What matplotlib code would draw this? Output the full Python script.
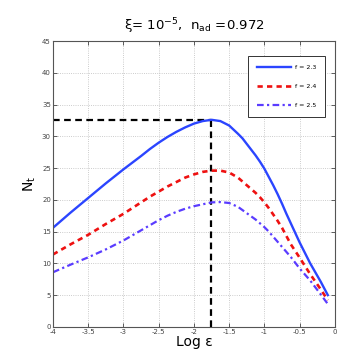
import matplotlib
matplotlib.use('Agg')
import matplotlib.pyplot as plt

# log epsilon grid and N_t curves
LOG_EPS = [-4, -3.75, -3.5, -3.25, -3, -2.75, -2.625, -2.5, -2.375, -2.25,
           -2.125, -2.0, -1.875, -1.75, -1.625, -1.5, -1.375, -1.3125, -1.25,
           -1.1875, -1.125, -1.0625, -1.0, -0.9375, -0.875, -0.8125, -0.75,
           -0.6875, -0.625, -0.5, -0.35, -0.2, -0.1]
NT_23 = [15.6, 18.0, 20.3, 22.6, 24.8, 26.9, 28.0, 29.0, 29.9, 30.7,
         31.4, 32.0, 32.4, 32.6, 32.4, 31.7, 30.4, 29.7, 28.8,
         27.9, 27.0, 26.0, 24.9, 23.6, 22.3, 20.9, 19.4,
         17.8, 16.3, 13.3, 10.0, 7.1, 5.0]
NT_24 = [11.4, 13.0, 14.5, 16.2, 17.8, 19.6, 20.5, 21.3, 22.1, 22.8,
         23.5, 24.0, 24.4, 24.6, 24.6, 24.3, 23.5, 22.9, 22.3,
         21.7, 21.1, 20.4, 19.6, 18.7, 17.7, 16.7, 15.6,
         14.3, 13.0, 10.9, 8.3, 5.9, 4.2]
NT_25 = [8.6, 9.8, 10.95, 12.2, 13.6, 15.2, 16.0, 16.8, 17.5, 18.1,
         18.6, 19.0, 19.3, 19.6, 19.65, 19.5, 18.9, 18.4, 17.9,
         17.4, 16.9, 16.3, 15.7, 15.0, 14.2, 13.4, 12.6,
         11.8, 11.0, 9.2, 7.3, 5.1, 3.6]
LABELS = ['f = 2.3', 'f = 2.4', 'f = 2.5']
PEAK_X, PEAK_Y = -1.76, 32.6

XTICKS = [-4, -3.5, -3, -2.5, -2, -1.5, -1, -0.5, 0]
YTICKS = [0, 5, 10, 15, 20, 25, 30, 35, 40, 45]


fig = plt.figure(figsize=(3.51, 3.6), dpi=100)
ax = fig.add_axes([0.151, 0.092, 0.803, 0.794])

ax.plot([-4, PEAK_X], [PEAK_Y, PEAK_Y], color='black', ls=(0, (3, 2)), lw=1.6)
ax.plot([PEAK_X, PEAK_X], [0, PEAK_Y], color='black', ls=(0, (3, 2)), lw=1.6)

ax.plot(LOG_EPS, NT_23, color='#2b45ff', ls='-', lw=1.7, label=LABELS[0])
ax.plot(LOG_EPS, NT_24, color='#ee1111', ls=(0, (2, 1.6)), lw=1.9, label=LABELS[1])
ax.plot(LOG_EPS, NT_25, color='#5a3cff', ls=(0, (3, 1.5, 1, 1.5)), lw=1.6,
        label=LABELS[2])

ax.set_xlim(-4, 0)
ax.set_ylim(0, 45)
ax.set_xticks(XTICKS)
ax.set_xticklabels(['-4', '-3.5', '-3', '-2.5', '-2', '-1.5', '-1', '-0.5', '0'])
ax.set_yticks(YTICKS)
ax.tick_params(direction='in', length=3, width=0.6, labelsize=5,
               colors='#444444', top=True, right=True, pad=1.5)
for sp in ax.spines.values():
    sp.set_color('#555555')
    sp.set_linewidth(0.8)
ax.grid(True, color='#bbbbbb', ls=':', lw=0.6)

ax.set_xlabel('Log \u03b5', fontsize=10, labelpad=0)
ax.set_ylabel('N$_\\mathrm{t}$', fontsize=10, rotation=90, labelpad=3)
ax.set_title('\u03be= 10$^{-5}$,  n$_\\mathrm{ad}$ =0.972', fontsize=9.5, pad=8)

leg = ax.legend(loc='upper right', bbox_to_anchor=(0.975, 0.96), fontsize=4.5,
                handlelength=5.5, handletextpad=0.5, labelspacing=2.2,
                borderpad=1.4, fancybox=False, framealpha=1, edgecolor='#333333')
leg.get_frame().set_linewidth(0.7)

fig.savefig('out.png', dpi=100)
